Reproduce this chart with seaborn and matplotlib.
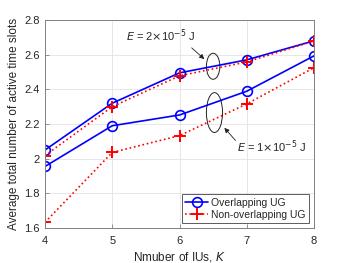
import matplotlib
matplotlib.use("Agg")
import matplotlib.pyplot as plt
import seaborn as sns
import pandas as pd
from matplotlib.patches import Ellipse

K = [4, 5, 6, 7, 8]
ovl_e2 = [2.05, 2.32, 2.495, 2.57, 2.68]
non_e2 = [2.018, 2.30, 2.478, 2.558, 2.679]
ovl_e1 = [1.955, 2.19, 2.252, 2.389, 2.593]
non_e1 = [1.633, 2.036, 2.133, 2.316, 2.525]

sns.set_style("ticks")
plt.rcParams['font.family'] = ['Liberation Sans', 'DejaVu Sans']

fig = plt.figure(figsize=(3.48, 2.63), dpi=100)
ax = fig.add_axes([45/348, 1-228/263, (314-45)/348, (228-20)/263])

blue = "#0000FF"
red = "#FF0000"
ovl_kw = dict(color=blue, lw=1.2, marker="o", markersize=7, markerfacecolor="none",
              markeredgecolor=blue, markeredgewidth=1.2)
non_kw = dict(color=red, lw=1.2, linestyle=":", marker="+", markersize=8,
              markeredgecolor=red, markeredgewidth=1.4)

sns.lineplot(x=K, y=ovl_e2, ax=ax, label="Overlapping UG", **ovl_kw)
sns.lineplot(x=K, y=non_e2, ax=ax, label="Non-overlapping UG", **non_kw)
sns.lineplot(x=K, y=ovl_e1, ax=ax, **ovl_kw)
sns.lineplot(x=K, y=non_e1, ax=ax, **non_kw)

ax.set_xlim(4, 8)
ax.set_ylim(1.6, 2.8)
ax.set_xticks([4, 5, 6, 7, 8])
ax.set_yticks([1.6, 1.8, 2.0, 2.2, 2.4, 2.6, 2.8])
ax.set_yticklabels(["1.6", "1.8", "2", "2.2", "2.4", "2.6", "2.8"])
ax.grid(True, color="#e3e3e3", lw=0.6)
ax.set_axisbelow(True)
for s in ax.spines.values():
    s.set_color("#808080")
    s.set_linewidth(0.7)
    s.set_visible(True)
ax.tick_params(direction="in", length=3, width=0.6, color="#808080", labelsize=8)
ax.tick_params(axis="x", pad=6)
ax.tick_params(axis="y", pad=4)
ax.set_xlabel("Nmuber of IUs, $K$", fontsize=8.5, labelpad=3)
ax.set_ylabel("Average total number of active time slots", fontsize=8.5, labelpad=3)

ax.add_patch(Ellipse((6.5, 2.533), 0.2, 0.15, fill=False, edgecolor="#222222", lw=0.7))
ax.add_patch(Ellipse((6.52, 2.266), 0.24, 0.23, fill=False, edgecolor="#222222", lw=0.7))

ax.annotate("", xy=(6.40, 2.564), xytext=(6.15, 2.65),
            arrowprops=dict(arrowstyle="-|>", color="#222222", lw=0.6, mutation_scale=7))
ax.annotate("", xy=(6.64, 2.19), xytext=(6.86, 2.093),
            arrowprops=dict(arrowstyle="-|>", color="#222222", lw=0.6, mutation_scale=7))
ax.text(5.20, 2.708, r"$E$ = 2$\times$10$^{-5}$ J", fontsize=8, va="center", ha="left")
ax.text(6.86, 2.07, r"$E$ = 1$\times$10$^{-5}$ J", fontsize=8, va="center", ha="left")

leg = ax.legend(loc="lower right", fontsize=7.5, frameon=True, fancybox=False,
                edgecolor="#333333", borderpad=0.3, labelspacing=0.2, handlelength=2.2,
                handletextpad=0.3, borderaxespad=0.5)
leg.get_frame().set_linewidth(0.7)

fig.savefig("out.png", dpi=100)
